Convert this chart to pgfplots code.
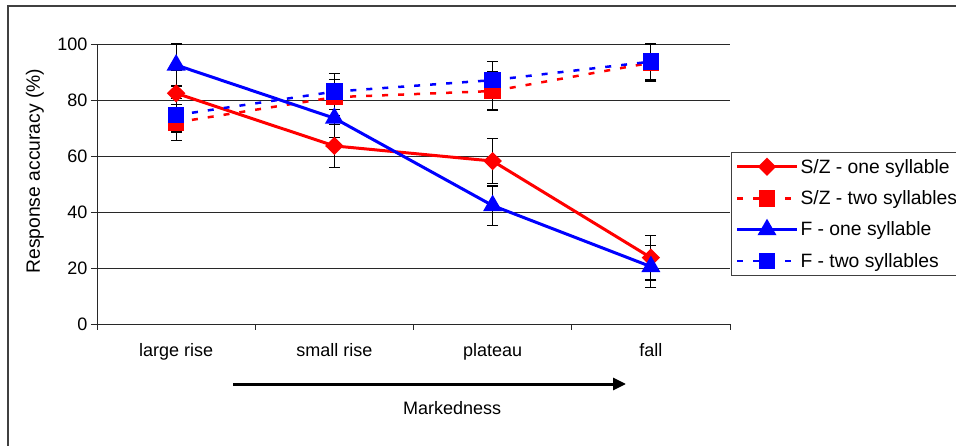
\documentclass[border=0pt]{standalone}
\usepackage{pgfplots}
\pgfplotsset{compat=1.18}
\usepackage{fontspec}
\setmainfont{Liberation Sans}
\usetikzlibrary{arrows.meta}
\definecolor{frame}{RGB}{64,64,64}
\definecolor{gridc}{RGB}{40,40,40}
\newcommand{\fs}{\fontsize{18}{20}\selectfont}
\newcommand{\fl}{\fontsize{19.3}{21}\selectfont}
\pgfplotsset{myerr/.style={error bars/y dir=both, error bars/y explicit,
  error bars/error bar style={black, line width=1.2pt, solid},
  error bars/error mark options={rotate=90, black, mark size=5.5pt, line width=1.2pt, solid}}}
\begin{document}
\begin{tikzpicture}[x=1pt,y=1pt]
\useasboundingbox (0,0) rectangle (956,445);
\draw[frame, line width=1.5pt] (8,-20) -- (8,439) -- (990,439);
\begin{axis}[
  at={(97pt,121pt)}, anchor=south west,
  scale only axis, width=633pt, height=280pt,
  xmin=-0.5, xmax=3.5, ymin=0, ymax=100,
  axis x line=bottom, axis y line=left,
  axis line style={-, gridc, line width=1pt},
  clip=false,
  ytick={0,20,...,100},
  xtick={0,1,2,3},
  xticklabels={large rise, small rise, plateau, fall},
  xtick style={draw=none},
  ytick style={gridc, line width=1pt},
  tick align=outside, major tick length=6pt,
  ymajorgrids, grid style={gridc, line width=1pt},
  /pgf/number format/assume math mode=true,
  tick label style={font=\fs},
  xticklabel style={yshift=-10pt},
  ylabel={Response accuracy (\%)},
  xlabel={Markedness},
  every axis y label/.style={at={(axis description cs:-0.098,0.546)}, rotate=90, anchor=center, font=\fl},
  every axis x label/.style={at={(axis description cs:0.561,-0.3)}, anchor=center, font=\fs},
  legend cell align=left,
  legend style={at={(axis description cs:1.0016,0.616)}, anchor=north west,
    draw=frame, line width=1pt, fill=white, font=\fl,
    inner xsep=4pt, inner ysep=5pt, row sep=12pt},
  legend image code/.code={\draw[mark repeat=2,mark phase=2,#1] plot coordinates {(0pt,0pt) (30pt,0pt) (60pt,0pt)};},
]
\pgfplotsinvokeforeach{-0.5,0.5,1.5,2.5,3.5}{\draw[gridc, line width=1pt] (axis cs:#1,0) -- ++(0pt,-6pt);}
\addplot[red, line width=3pt, mark=diamond*, mark size=7pt, mark options={solid, fill=red, draw=red, xscale=1.35}, myerr]
  coordinates {(0,82.4) +- (0,8) (1,63.6) +- (0,7.7) (2,58.2) +- (0,8) (3,23.7) +- (0,8)};
\addlegendentry{S/Z - one syllable}
\addplot[red, line width=2.5pt, dash pattern=on 6pt off 10pt, mark=square*, mark size=7pt, mark options={solid, fill=red, draw=red}, myerr]
  coordinates {(0,72.0) +- (0,6.5) (1,81.0) +- (0,6.4) (2,83.2) +- (0,6.8) (3,93.3) +- (0,6.5)};
\addlegendentry{S/Z - two syllables}
\addplot[blue, line width=3pt, mark=triangle*, mark size=8pt, mark options={solid, fill=blue, draw=blue}, myerr]
  coordinates {(0,92.5) +- (0,7.5) (1,73.5) +- (0,7) (2,42.3) +- (0,7) (3,20.5) +- (0,7.5)};
\addlegendentry{F - one syllable}
\addplot[blue, line width=2.5pt, dash pattern=on 6pt off 10pt, mark=square*, mark size=7pt, mark options={solid, fill=blue, draw=blue}, myerr]
  coordinates {(0,74.6) +- (0,6) (1,83.0) +- (0,6.5) (2,87.1) +- (0,6.6) (3,93.7) +- (0,6.3)};
\addlegendentry{F - two syllables}
\end{axis}
\draw[line width=3pt, -{Triangle[length=13pt,width=12pt]}] (233,61) -- (626,61);
\end{tikzpicture}
\end{document}
